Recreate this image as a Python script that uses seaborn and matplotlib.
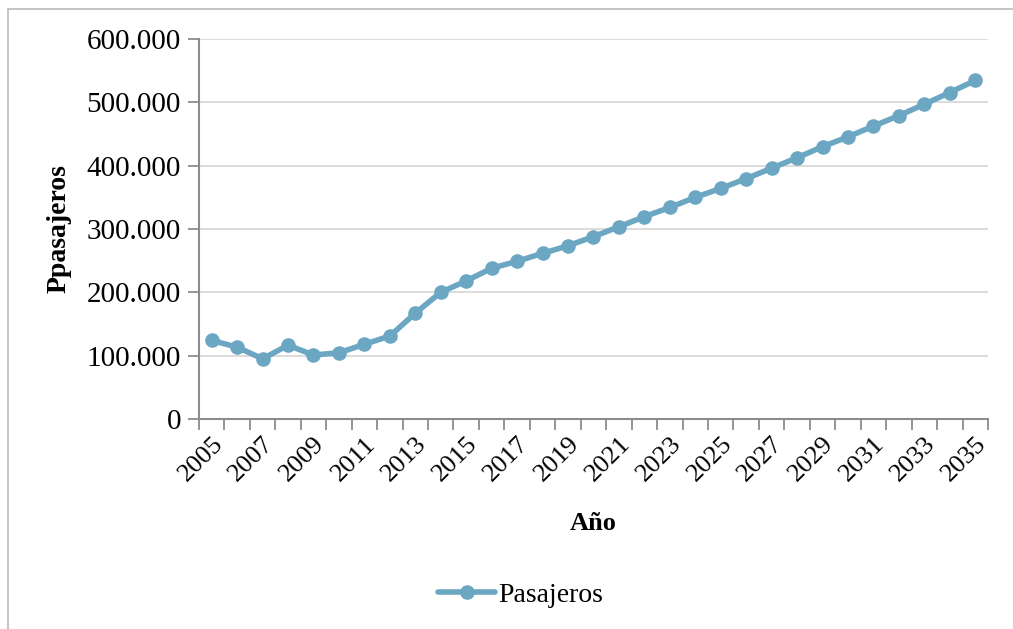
import matplotlib
matplotlib.use('Agg')
import matplotlib.pyplot as plt
import matplotlib.ticker as mticker
from matplotlib.lines import Line2D
import seaborn as sns
import pandas as pd

# datos
anios = list(range(2005, 2036))
pasajeros = [124000, 113500, 95000, 116500, 101000, 104500, 118000, 131000, 167000, 200000,
             218000, 238000, 249000, 261500, 273500, 288000, 303500, 319500, 334000, 350000,
             364000, 379500, 396000, 412500, 430000, 445500, 462500, 479000, 497000, 515500,
             534500]
etiquetas_x = [str(a) for a in anios[::2]]

df = pd.DataFrame({"Año": anios, "Pasajeros": pasajeros})

sns.set_theme(style="white", rc={'text.color': 'black', 'axes.labelcolor': 'black',
                                 'xtick.color': 'black', 'ytick.color': 'black'})
plt.rcParams['font.family'] = ['Liberation Serif', 'DejaVu Serif']

color_linea = '#6ba6c3'
gris_eje = '#8c8c8c'

fig = plt.figure(figsize=(10.13, 6.29), dpi=100)
ax = fig.add_axes([0.1964, 0.3339, 0.7789, 0.6041])

sns.lineplot(data=df, x="Año", y="Pasajeros", ax=ax, color=color_linea, linewidth=4,
             marker='o', markersize=10.5, markeredgewidth=0, label="Pasajeros", legend=False)

ax.set_ylim(0, 600000)
ax.set_xlim(anios[0] - 0.5, anios[-1] + 0.5)
ax.yaxis.set_major_locator(mticker.MultipleLocator(100000))
ax.yaxis.set_major_formatter(mticker.FuncFormatter(lambda v, p: f"{int(v):,}".replace(",", ".")))
ax.grid(axis='y', color='#d9d9d9', linewidth=1.3)
ax.set_axisbelow(True)

# ticks en los limites de las categorias, etiquetas en los centros
ax.set_xticks([a - 0.5 for a in anios] + [anios[-1] + 0.5])
ax.set_xticklabels([])
ax.set_xticks(anios[::2], minor=True)
ax.set_xticklabels(etiquetas_x, minor=True, rotation=45, ha='right', rotation_mode='anchor',
                   fontsize=19)
ax.tick_params(axis='x', which='major', length=8, width=1.3, color=gris_eje, direction='out', bottom=True)
ax.tick_params(axis='x', which='minor', length=0, pad=10, labelcolor='black')
ax.tick_params(axis='y', length=8, width=1.3, color=gris_eje, direction='out', left=True,
               labelsize=21, pad=5, labelcolor='black')

for s in ['top', 'right']:
    ax.spines[s].set_visible(False)
for s in ['left', 'bottom']:
    ax.spines[s].set_color(gris_eje)
    ax.spines[s].set_linewidth(1.5)

ax.set_xlabel("Año", fontsize=19, fontweight='bold', color='black')
ax.set_ylabel("Ppasajeros", fontsize=20, fontweight='bold', color='black')
ax.xaxis.set_label_coords(0.5, -0.245)
ax.yaxis.set_label_coords(-0.162, 0.5)

handles = [Line2D([], [], color=color_linea, linewidth=4, marker='o', markersize=10.5,
                  markeredgewidth=0)]
fig.legend(handles, ["Pasajeros"], loc='center', bbox_to_anchor=(0.514, 0.054), frameon=False,
           fontsize=20, handlelength=2.05, handletextpad=0.1, labelcolor='black')

# borde del area del grafico
fig.add_artist(Line2D([8 / 1013, 8 / 1013], [0, 1 - 9 / 629], transform=fig.transFigure,
                      color='#bfbfbf', linewidth=1.3))
fig.add_artist(Line2D([8 / 1013, 1], [1 - 9 / 629, 1 - 9 / 629], transform=fig.transFigure,
                      color='#bfbfbf', linewidth=1.3))

fig.savefig('out.png', dpi=100)
